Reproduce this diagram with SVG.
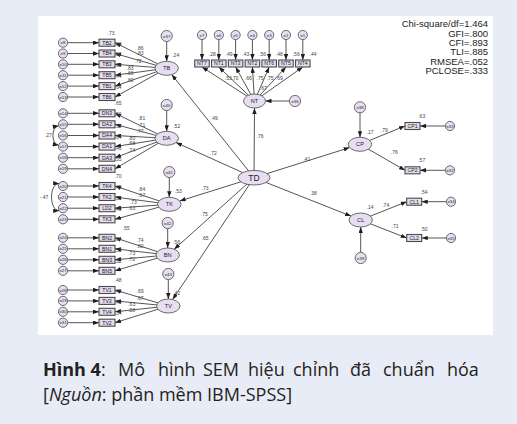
<svg xmlns="http://www.w3.org/2000/svg" width="517" height="424" viewBox="0 0 517 424">
<defs>
<marker id="ah" viewBox="0 0 6 4.4" refX="6" refY="2.2" markerWidth="6" markerHeight="4.4" markerUnits="userSpaceOnUse" orient="auto-start-reverse"><path d="M0,0 L6,2.2 L0,4.4 z" fill="#1e1e1e"/></marker>
<style>
.edge{stroke:#2a2a2a;stroke-width:0.8;fill:none;marker-end:url(#ah)}
.cov{stroke:#2a2a2a;stroke-width:0.8;fill:none;marker-start:url(#ah);marker-end:url(#ah)}
.box{fill:#e6dcf0;stroke:#4a4a4a;stroke-width:1.1}
.lat{fill:#e8def2;stroke:#4a4a4a;stroke-width:0.8}
.err{fill:#e8def2;stroke:#4a4a4a;stroke-width:0.8}
text{font-family:"Liberation Sans",Arial,sans-serif}
.bl{font-size:5.2px;fill:#222;text-anchor:middle}
.el{font-size:4.3px;fill:#222;text-anchor:middle}
.ll{font-size:5.6px;fill:#222;text-anchor:middle}
.n{font-size:5px;fill:#444;text-anchor:middle}
.fit{font-size:9.5px;fill:#222;text-anchor:end}
.cap text{font-family:"Open Sans","Noto Sans",sans-serif;font-size:18px;fill:#231f20}
</style>
</defs>

<!-- page and figure panel -->
<rect x="0" y="0" width="517" height="424" fill="#e8ecf6"/>
<rect x="38" y="16" width="455" height="319" fill="#ffffff"/>

<!-- paths -->
<g id="connectors">
<!-- errors to indicators, left column -->
<path class="edge" d="M67.6,42.7 L99,42.7"/><path class="edge" d="M67.6,53.5 L99,53.5"/><path class="edge" d="M67.6,64.3 L99,64.3"/><path class="edge" d="M67.6,75.2 L99,75.2"/><path class="edge" d="M67.6,86.1 L99,86.1"/><path class="edge" d="M67.6,97 L99,97"/>
<path class="edge" d="M67.6,113.3 L99,113.3"/><path class="edge" d="M67.6,124.3 L99,124.3"/><path class="edge" d="M67.6,135.5 L99,135.5"/><path class="edge" d="M67.6,146.6 L99,146.6"/><path class="edge" d="M67.6,157.7 L99,157.7"/><path class="edge" d="M67.6,168.8 L99,168.8"/>
<path class="edge" d="M67.6,186 L99,186"/><path class="edge" d="M67.6,197 L99,197"/><path class="edge" d="M67.6,208.2 L99,208.2"/><path class="edge" d="M67.6,219.3 L99,219.3"/>
<path class="edge" d="M67.6,237.8 L99,237.8"/><path class="edge" d="M67.6,248.8 L99,248.8"/><path class="edge" d="M67.6,259.8 L99,259.8"/><path class="edge" d="M67.6,270.8 L99,270.8"/>
<path class="edge" d="M67.6,290 L99,290"/><path class="edge" d="M67.6,300.9 L99,300.9"/><path class="edge" d="M67.6,311.8 L99,311.8"/><path class="edge" d="M67.6,322.7 L99,322.7"/>
<!-- latent factors to indicators -->
<path class="edge" d="M166.7,68.3 L115,42.7"/><path class="edge" d="M166.7,68.3 L115,53.5"/><path class="edge" d="M166.7,68.3 L115,64.3"/><path class="edge" d="M166.7,68.3 L115,75.2"/><path class="edge" d="M166.7,68.3 L115,86.1"/><path class="edge" d="M166.7,68.3 L115,97"/>
<path class="edge" d="M166.7,138.3 L115,113.3"/><path class="edge" d="M166.7,138.3 L115,124.3"/><path class="edge" d="M166.7,138.3 L115,135.5"/><path class="edge" d="M166.7,138.3 L115,146.6"/><path class="edge" d="M166.7,138.3 L115,157.7"/><path class="edge" d="M166.7,138.3 L115,168.8"/>
<path class="edge" d="M169.3,204.3 L115,186"/><path class="edge" d="M169.3,204.3 L115,197"/><path class="edge" d="M169.3,204.3 L115,208.2"/><path class="edge" d="M169.3,204.3 L115,219.3"/>
<path class="edge" d="M167.7,255 L115,237.8"/><path class="edge" d="M167.7,255 L115,248.8"/><path class="edge" d="M167.7,255 L115,259.8"/><path class="edge" d="M167.7,255 L115,270.8"/>
<path class="edge" d="M168.3,306 L115,290"/><path class="edge" d="M168.3,306 L115,300.9"/><path class="edge" d="M168.3,306 L115,311.8"/><path class="edge" d="M168.3,306 L115,322.7"/>
<!-- disturbances to latent factors -->
<path class="edge" d="M166.7,41.6 L166.7,61.3"/>
<path class="edge" d="M166.7,110.6 L166.7,131.3"/>
<path class="edge" d="M169.3,177.6 L169.3,197.3"/>
<path class="edge" d="M167.7,228.6 L167.7,248"/>
<path class="edge" d="M168.3,279.6 L168.3,299"/>
<path class="edge" d="M360,112.9 L360,137.3"/>
<path class="edge" d="M360.7,252.4 L360.7,227"/>
<path class="edge" d="M289.4,101 L265.5,101"/>
<!-- TD structural paths -->
<path class="edge" d="M254,177.7 L171.7,74.6"/>
<path class="edge" d="M254,177.7 L176,142.5"/>
<path class="edge" d="M254,177.7 L179.7,201"/>
<path class="edge" d="M254,177.7 L174.2,249.2"/>
<path class="edge" d="M254,177.7 L172.6,299.5"/>
<path class="edge" d="M254,177.7 L254.5,108"/>
<path class="edge" d="M254,177.7 L349.6,147.6"/>
<path class="edge" d="M254,177.7 L351,216.1"/>
<!-- NT block -->
<path class="edge" d="M202,39.6 L202,60"/><path class="edge" d="M218.8,39.6 L218.8,60"/><path class="edge" d="M235.6,39.6 L235.6,60"/><path class="edge" d="M252.4,39.6 L252.4,60"/><path class="edge" d="M269.2,39.6 L269.2,60"/><path class="edge" d="M286,39.6 L286,60"/><path class="edge" d="M302.8,39.6 L302.8,60"/>
<path class="edge" d="M254.5,101 L202,67"/><path class="edge" d="M254.5,101 L218.8,67"/><path class="edge" d="M254.5,101 L235.6,67"/><path class="edge" d="M254.5,101 L252.4,67"/><path class="edge" d="M254.5,101 L269.2,67"/><path class="edge" d="M254.5,101 L286,67"/><path class="edge" d="M254.5,101 L302.8,67"/>
<!-- CP and CL blocks -->
<path class="edge" d="M360,144.3 L405,126"/><path class="edge" d="M360,144.3 L405,170.3"/>
<path class="edge" d="M360.7,220 L406.7,201.7"/><path class="edge" d="M360.7,220 L406.7,238"/>
<path class="edge" d="M445.4,126 L420,126"/><path class="edge" d="M445.4,170.3 L420,170.3"/>
<path class="edge" d="M446.4,201.7 L421.7,201.7"/><path class="edge" d="M446.4,238 L421.7,238"/>
<!-- error covariances -->
<path class="cov" d="M58.6,125.8 C51,127 51,144 58.6,145.2"/>
<path class="cov" d="M59.2,183.6 C49,183 49,211 59.2,210.6"/>
</g>

<!-- path coefficients and squared multiple correlations -->
<g id="estimates">
<text class="n" x="111" y="34.7">.73</text><text class="n" x="118" y="45.5">.69</text><text class="n" x="118" y="56.3">.52</text><text class="n" x="118" y="67.2">.69</text><text class="n" x="118" y="78.1">.44</text><text class="n" x="118" y="89">.64</text>
<text class="n" x="118" y="105.3">.65</text><text class="n" x="118" y="116.3">.50</text><text class="n" x="118" y="127.5">.59</text><text class="n" x="118" y="138.6">.64</text><text class="n" x="118" y="149.7">.46</text><text class="n" x="118" y="160.8">.55</text>
<text class="n" x="118" y="178">.70</text><text class="n" x="118" y="189">.45</text><text class="n" x="118" y="200.2">.53</text><text class="n" x="118" y="211.3">.40</text>
<text class="n" x="126" y="229.8">.55</text><text class="n" x="118" y="240.8">.64</text><text class="n" x="118" y="251.8">.53</text><text class="n" x="118" y="262.8">.52</text>
<text class="n" x="118" y="282">.48</text><text class="n" x="118" y="292.9">.45</text><text class="n" x="118" y="303.8">.40</text><text class="n" x="118" y="314.7">.34</text>
<text class="n" x="140" y="49.7">.86</text><text class="n" x="140" y="54.7">.83</text><text class="n" x="138" y="62.7">.72</text><text class="n" x="130" y="69.7">.83</text><text class="n" x="130" y="74.7">.66</text><text class="n" x="130" y="81.7">.80</text>
<text class="n" x="141.7" y="120">.81</text><text class="n" x="141.7" y="126.7">.71</text><text class="n" x="140" y="133.4">.77</text><text class="n" x="131.7" y="140">.80</text><text class="n" x="131.7" y="145">.68</text><text class="n" x="131.7" y="151.7">.74</text>
<text class="n" x="141.7" y="191">.84</text><text class="n" x="141.7" y="196.7">.67</text><text class="n" x="133.3" y="204">.73</text><text class="n" x="131.7" y="210">.63</text>
<text class="n" x="140" y="241.7">.74</text><text class="n" x="140" y="247.7">.80</text><text class="n" x="131.7" y="255">.73</text><text class="n" x="131.7" y="261">.72</text>
<text class="n" x="140" y="293.4">.69</text><text class="n" x="140" y="300">.67</text><text class="n" x="131.7" y="305.7">.63</text><text class="n" x="131.7" y="311.7">.58</text>
<text class="n" x="175.7" y="56.7">.24</text><text class="n" x="176.7" y="127.7">.52</text><text class="n" x="178.3" y="193.4">.53</text><text class="n" x="176.7" y="244.4">.56</text><text class="n" x="176.7" y="294.7">.42</text>
<text class="n" x="48.3" y="136.7">.27</text><text class="n" x="44" y="198.5">-.47</text>
<text class="n" x="214.3" y="120">.49</text><text class="n" x="213.3" y="155">.72</text><text class="n" x="205" y="190">.73</text><text class="n" x="204.3" y="216">.75</text><text class="n" x="205" y="240">.65</text>
<text class="n" x="260" y="138.4">.76</text><text class="n" x="306.7" y="161">.41</text><text class="n" x="313.3" y="195">.38</text>
<text class="n" x="212.3" y="56">.28</text><text class="n" x="229" y="56">.49</text><text class="n" x="245.8" y="56">.43</text><text class="n" x="262.6" y="56">.56</text><text class="n" x="279.4" y="56">.48</text><text class="n" x="296.2" y="56">.56</text><text class="n" x="313" y="56">.44</text>
<text class="n" x="228.3" y="80">.53</text><text class="n" x="235" y="80">.70</text><text class="n" x="248.3" y="80">.66</text><text class="n" x="260" y="80">.75</text><text class="n" x="270" y="80">.75</text><text class="n" x="279.3" y="80">.69</text><text class="n" x="263.3" y="90">.67</text>
<text class="n" x="370" y="134.4">.17</text><text class="n" x="384.3" y="132.4">.79</text><text class="n" x="394.3" y="154">.76</text><text class="n" x="421.7" y="117.7">.63</text><text class="n" x="421.7" y="162.4">.57</text>
<text class="n" x="370" y="209.4">.14</text><text class="n" x="385.7" y="206.7">.74</text><text class="n" x="395" y="227.7">.71</text><text class="n" x="424" y="194.4">.54</text><text class="n" x="424" y="230.7">.50</text>
</g>

<!-- TB block -->
<g id="e8"><circle class="err" cx="63" cy="42.7" r="4.6"/><text class="el" x="63" y="44.2">e8</text></g>
<g id="e9"><circle class="err" cx="63" cy="53.5" r="4.6"/><text class="el" x="63" y="55">e9</text></g>
<g id="e10"><circle class="err" cx="63" cy="64.3" r="4.6"/><text class="el" x="63" y="65.8">e10</text></g>
<g id="e11"><circle class="err" cx="63" cy="75.2" r="4.6"/><text class="el" x="63" y="76.7">e11</text></g>
<g id="e12"><circle class="err" cx="63" cy="86.1" r="4.6"/><text class="el" x="63" y="87.6">e12</text></g>
<g id="e13"><circle class="err" cx="63" cy="97" r="4.6"/><text class="el" x="63" y="98.5">e13</text></g>
<g id="TB2"><rect class="box" x="99" y="39.2" width="16" height="7"/><text class="bl" x="107" y="44.5">TB2</text></g>
<g id="TB4"><rect class="box" x="99" y="50" width="16" height="7"/><text class="bl" x="107" y="55.3">TB4</text></g>
<g id="TB3"><rect class="box" x="99" y="60.8" width="16" height="7"/><text class="bl" x="107" y="66.1">TB3</text></g>
<g id="TB5"><rect class="box" x="99" y="71.7" width="16" height="7"/><text class="bl" x="107" y="77">TB5</text></g>
<g id="TB1"><rect class="box" x="99" y="82.6" width="16" height="7"/><text class="bl" x="107" y="87.9">TB1</text></g>
<g id="TB6"><rect class="box" x="99" y="93.5" width="16" height="7"/><text class="bl" x="107" y="98.8">TB6</text></g>
<g id="TB"><ellipse class="lat" cx="166.7" cy="68.3" rx="11.7" ry="7"/><text class="ll" x="166.7" y="70.3">TB</text></g>
<g id="e37"><circle class="err" cx="166.7" cy="36" r="5.6"/><text class="el" x="166.7" y="37.6">e37</text></g>

<!-- DA block -->
<g id="e14"><circle class="err" cx="63" cy="113.3" r="4.6"/><text class="el" x="63" y="114.8">e14</text></g>
<g id="e15"><circle class="err" cx="63" cy="124.3" r="4.6"/><text class="el" x="63" y="125.8">e15</text></g>
<g id="e16"><circle class="err" cx="63" cy="135.5" r="4.6"/><text class="el" x="63" y="137">e16</text></g>
<g id="e17"><circle class="err" cx="63" cy="146.6" r="4.6"/><text class="el" x="63" y="148.1">e17</text></g>
<g id="e18"><circle class="err" cx="63" cy="157.7" r="4.6"/><text class="el" x="63" y="159.2">e18</text></g>
<g id="e19"><circle class="err" cx="63" cy="168.8" r="4.6"/><text class="el" x="63" y="170.3">e19</text></g>
<g id="DN3"><rect class="box" x="99" y="109.8" width="16" height="7"/><text class="bl" x="107" y="115.1">DN3</text></g>
<g id="DA2"><rect class="box" x="99" y="120.8" width="16" height="7"/><text class="bl" x="107" y="126.1">DA2</text></g>
<g id="DA4"><rect class="box" x="99" y="132" width="16" height="7"/><text class="bl" x="107" y="137.3">DA4</text></g>
<g id="DA1"><rect class="box" x="99" y="143.1" width="16" height="7"/><text class="bl" x="107" y="148.4">DA1</text></g>
<g id="DA3"><rect class="box" x="99" y="154.2" width="16" height="7"/><text class="bl" x="107" y="159.5">DA3</text></g>
<g id="DN4"><rect class="box" x="99" y="165.3" width="16" height="7"/><text class="bl" x="107" y="170.6">DN4</text></g>
<g id="DA"><ellipse class="lat" cx="166.7" cy="138.3" rx="11.7" ry="7"/><text class="ll" x="166.7" y="140.3">DA</text></g>
<g id="e40"><circle class="err" cx="166.7" cy="105" r="5.6"/><text class="el" x="166.7" y="106.6">e40</text></g>

<!-- TK block -->
<g id="e20"><circle class="err" cx="63" cy="186" r="4.6"/><text class="el" x="63" y="187.5">e20</text></g>
<g id="e21"><circle class="err" cx="63" cy="197" r="4.6"/><text class="el" x="63" y="198.5">e21</text></g>
<g id="e22"><circle class="err" cx="63" cy="208.2" r="4.6"/><text class="el" x="63" y="209.7">e22</text></g>
<g id="e23"><circle class="err" cx="63" cy="219.3" r="4.6"/><text class="el" x="63" y="220.8">e23</text></g>
<g id="TK4"><rect class="box" x="99" y="182.5" width="16" height="7"/><text class="bl" x="107" y="187.8">TK4</text></g>
<g id="TK2"><rect class="box" x="99" y="193.5" width="16" height="7"/><text class="bl" x="107" y="198.8">TK2</text></g>
<g id="LD2"><rect class="box" x="99" y="204.7" width="16" height="7"/><text class="bl" x="107" y="210">LD2</text></g>
<g id="TK3"><rect class="box" x="99" y="215.8" width="16" height="7"/><text class="bl" x="107" y="221.1">TK3</text></g>
<g id="TK"><ellipse class="lat" cx="169.3" cy="204.3" rx="11.7" ry="7"/><text class="ll" x="169.3" y="206.3">TK</text></g>
<g id="e41"><circle class="err" cx="169.3" cy="172" r="5.6"/><text class="el" x="169.3" y="173.6">e41</text></g>

<!-- BN block -->
<g id="e24"><circle class="err" cx="63" cy="237.8" r="4.6"/><text class="el" x="63" y="239.3">e24</text></g>
<g id="e25"><circle class="err" cx="63" cy="248.8" r="4.6"/><text class="el" x="63" y="250.3">e25</text></g>
<g id="e26"><circle class="err" cx="63" cy="259.8" r="4.6"/><text class="el" x="63" y="261.3">e26</text></g>
<g id="e27"><circle class="err" cx="63" cy="270.8" r="4.6"/><text class="el" x="63" y="272.3">e27</text></g>
<g id="BN2"><rect class="box" x="99" y="234.3" width="16" height="7"/><text class="bl" x="107" y="239.6">BN2</text></g>
<g id="BN1"><rect class="box" x="99" y="245.3" width="16" height="7"/><text class="bl" x="107" y="250.6">BN1</text></g>
<g id="BN3"><rect class="box" x="99" y="256.3" width="16" height="7"/><text class="bl" x="107" y="261.6">BN3</text></g>
<g id="BN5"><rect class="box" x="99" y="267.3" width="16" height="7"/><text class="bl" x="107" y="272.6">BN5</text></g>
<g id="BN"><ellipse class="lat" cx="167.7" cy="255" rx="11.7" ry="7"/><text class="ll" x="167.7" y="257">BN</text></g>
<g id="e42"><circle class="err" cx="167.7" cy="223" r="5.6"/><text class="el" x="167.7" y="224.6">e42</text></g>

<!-- TV block -->
<g id="e28"><circle class="err" cx="63" cy="290" r="4.6"/><text class="el" x="63" y="291.5">e28</text></g>
<g id="e29"><circle class="err" cx="63" cy="300.9" r="4.6"/><text class="el" x="63" y="302.4">e29</text></g>
<g id="e30"><circle class="err" cx="63" cy="311.8" r="4.6"/><text class="el" x="63" y="313.3">e30</text></g>
<g id="e31"><circle class="err" cx="63" cy="322.7" r="4.6"/><text class="el" x="63" y="324.2">e31</text></g>
<g id="TV1"><rect class="box" x="99" y="286.5" width="16" height="7"/><text class="bl" x="107" y="291.8">TV1</text></g>
<g id="TV3"><rect class="box" x="99" y="297.4" width="16" height="7"/><text class="bl" x="107" y="302.7">TV3</text></g>
<g id="TV4"><rect class="box" x="99" y="308.3" width="16" height="7"/><text class="bl" x="107" y="313.6">TV4</text></g>
<g id="TV2"><rect class="box" x="99" y="319.2" width="16" height="7"/><text class="bl" x="107" y="324.5">TV2</text></g>
<g id="TV"><ellipse class="lat" cx="168.3" cy="306" rx="11.7" ry="7"/><text class="ll" x="168.3" y="308">TV</text></g>
<g id="e43"><circle class="err" cx="168.3" cy="274" r="5.6"/><text class="el" x="168.3" y="275.6">e43</text></g>

<!-- NT block -->
<g id="e7"><circle class="err" cx="202" cy="35" r="4.6"/><text class="el" x="202" y="36.5">e7</text></g>
<g id="e6"><circle class="err" cx="218.8" cy="35" r="4.6"/><text class="el" x="218.8" y="36.5">e6</text></g>
<g id="e5"><circle class="err" cx="235.6" cy="35" r="4.6"/><text class="el" x="235.6" y="36.5">e5</text></g>
<g id="e4"><circle class="err" cx="252.4" cy="35" r="4.6"/><text class="el" x="252.4" y="36.5">e4</text></g>
<g id="e3"><circle class="err" cx="269.2" cy="35" r="4.6"/><text class="el" x="269.2" y="36.5">e3</text></g>
<g id="e2"><circle class="err" cx="286" cy="35" r="4.6"/><text class="el" x="286" y="36.5">e2</text></g>
<g id="e1"><circle class="err" cx="302.8" cy="35" r="4.6"/><text class="el" x="302.8" y="36.5">e1</text></g>
<g id="NT7"><rect class="box" x="194.75" y="60" width="14.5" height="7"/><text class="bl" x="202" y="65.3">NT7</text></g>
<g id="NT1"><rect class="box" x="211.55" y="60" width="14.5" height="7"/><text class="bl" x="218.8" y="65.3">NT1</text></g>
<g id="NT3"><rect class="box" x="228.35" y="60" width="14.5" height="7"/><text class="bl" x="235.6" y="65.3">NT3</text></g>
<g id="NT2"><rect class="box" x="245.15" y="60" width="14.5" height="7"/><text class="bl" x="252.4" y="65.3">NT2</text></g>
<g id="NT6"><rect class="box" x="261.95" y="60" width="14.5" height="7"/><text class="bl" x="269.2" y="65.3">NT6</text></g>
<g id="NT5"><rect class="box" x="278.75" y="60" width="14.5" height="7"/><text class="bl" x="286" y="65.3">NT5</text></g>
<g id="NT4"><rect class="box" x="295.55" y="60" width="14.5" height="7"/><text class="bl" x="302.8" y="65.3">NT4</text></g>
<g id="NT"><ellipse class="lat" cx="254.5" cy="101" rx="11" ry="7"/><text class="ll" x="254.5" y="103">NT</text></g>
<g id="e36"><circle class="err" cx="295" cy="101" r="5.6"/><text class="el" x="295" y="102.6">e36</text></g>

<!-- TD -->
<g id="TD"><ellipse class="lat" cx="254" cy="177.7" rx="16" ry="7.3"/><text x="254" y="180.7" font-size="8.5" fill="#222" text-anchor="middle">TD</text></g>

<!-- CP block -->
<g id="CP"><ellipse class="lat" cx="360" cy="144.3" rx="11.7" ry="7"/><text class="ll" x="360" y="146.3">CP</text></g>
<g id="e38"><circle class="err" cx="360" cy="107.3" r="5.6"/><text class="el" x="360" y="108.9">e38</text></g>
<g id="CP1"><rect class="box" x="405" y="122.5" width="15" height="7"/><text class="bl" x="412.5" y="127.8">CP1</text></g>
<g id="CP2"><rect class="box" x="405" y="166.8" width="15" height="7"/><text class="bl" x="412.5" y="172.1">CP2</text></g>
<g id="e33"><circle class="err" cx="450" cy="126" r="4.6"/><text class="el" x="450" y="127.5">e33</text></g>
<g id="e32"><circle class="err" cx="450" cy="170.3" r="4.6"/><text class="el" x="450" y="171.8">e32</text></g>

<!-- CL block -->
<g id="CL"><ellipse class="lat" cx="360.7" cy="220" rx="11.7" ry="7"/><text class="ll" x="360.7" y="222">CL</text></g>
<g id="e39"><circle class="err" cx="360.7" cy="258" r="5.6"/><text class="el" x="360.7" y="259.6">e39</text></g>
<g id="CL1"><rect class="box" x="406.7" y="198.2" width="15" height="7"/><text class="bl" x="414.2" y="203.5">CL1</text></g>
<g id="CL2"><rect class="box" x="406.7" y="234.5" width="15" height="7"/><text class="bl" x="414.2" y="239.8">CL2</text></g>
<g id="e34"><circle class="err" cx="451" cy="201.7" r="4.6"/><text class="el" x="451" y="203.2">e34</text></g>
<g id="e35"><circle class="err" cx="451" cy="238" r="4.6"/><text class="el" x="451" y="239.5">e35</text></g>

<!-- model fit -->
<g id="fit">
<text class="fit" x="488" y="27.3">Chi-square/df=1.464</text>
<text class="fit" x="488" y="36.6">GFI=.800</text>
<text class="fit" x="488" y="45.9">CFI=.893</text>
<text class="fit" x="488" y="55.2">TLI=.885</text>
<text class="fit" x="488" y="64.5">RMSEA=.052</text>
<text class="fit" x="488" y="73.8">PCLOSE=.333</text>
</g>

<!-- caption -->
<g id="caption" class="cap">
<text y="376"><tspan x="43" font-weight="bold">Hình 4</tspan><tspan>:</tspan></text>
<text y="376"><tspan x="118">Mô</tspan><tspan x="158">hình</tspan><tspan x="203">SEM</tspan><tspan x="248">hiệu</tspan><tspan x="293">chỉnh</tspan><tspan x="350">đã</tspan><tspan x="383">chuẩn</tspan><tspan x="447">hóa</tspan></text>
<text x="43" y="401">[<tspan font-style="italic">Nguồn</tspan>: phần mềm IBM-SPSS]</text>
</g>
</svg>
